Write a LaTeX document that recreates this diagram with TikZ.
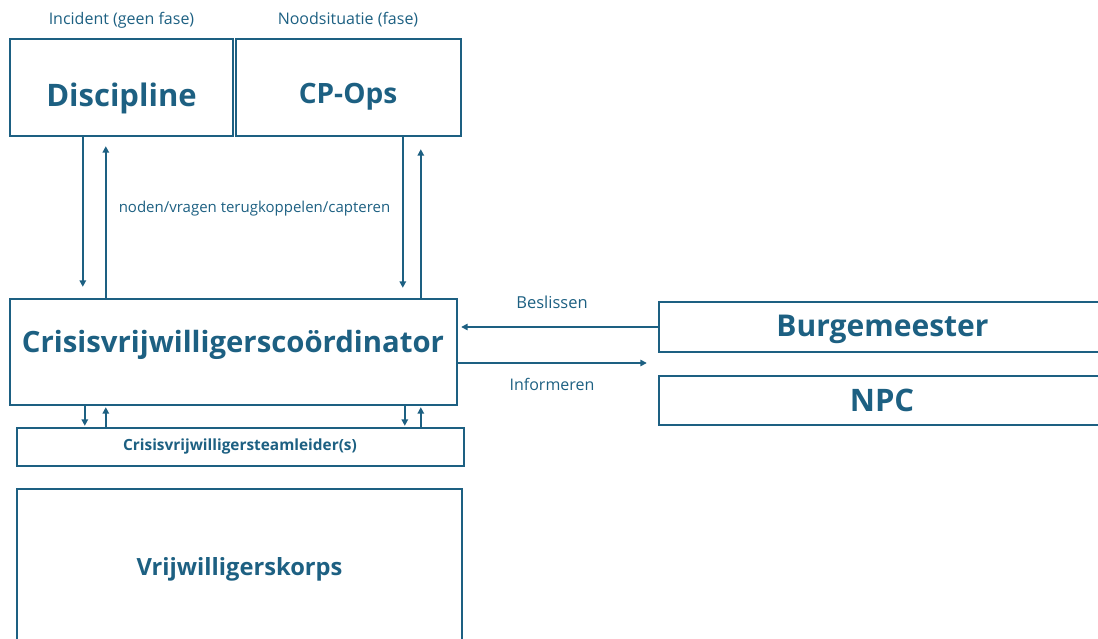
\documentclass[tikz,border=0pt]{standalone}
\usepackage{fontspec}
\setmainfont{Open Sans}
\usetikzlibrary{arrows.meta}
\definecolor{teal}{HTML}{1D6082}
\tikzset{
  box/.style={draw=teal, line width=2.4pt, inner sep=0pt, rectangle},
  title/.style={text=teal, font=\bfseries, inner sep=0pt},
  lbl/.style={text=teal, inner sep=0pt},
  arr/.style={draw=teal, line width=1.5pt, -{Triangle[length=6.5pt,width=6.5pt]}},
}
\begin{document}
\begin{tikzpicture}[x=1pt,y=-1pt]
\useasboundingbox (0,0) rectangle (1098,639);
\clip (0,0) rectangle (1098,639);
% boxes
\node[box, minimum width=223pt, minimum height=97pt] (disc) at (121.5,87.5) {};
\node[box, minimum width=225pt, minimum height=97pt] (cpops) at (348.5,87.5) {};
\node[box, minimum width=447pt, minimum height=106pt] (coord) at (233.5,352) {};
\node[box, minimum width=447pt, minimum height=38pt] (team) at (240.5,447) {};
\node[box, minimum width=445pt, minimum height=161pt] (korps) at (239.5,569.5) {};
\node[box, minimum width=451pt, minimum height=50pt] (burg) at (884.5,327) {};
\node[box, minimum width=451pt, minimum height=49pt] (npc) at (884.5,400.5) {};
% titles
\node[title, font=\bfseries\fontsize{31}{33}\selectfont] (tdisc) at (121.5,98) {Discipline};
\node[title, font=\bfseries\fontsize{28}{30}\selectfont] (tcp) at (348,97) {CP-Ops};
\node[title, font=\bfseries\fontsize{29.3}{31}\selectfont] (tcoord) at (233,345) {Crisisvrijwilligerscoördinator};
\node[title, font=\bfseries\fontsize{15.4}{17}\selectfont] (tteam) at (240,446) {Crisisvrijwilligersteamleider(s)};
\node[title, font=\bfseries\fontsize{23.7}{26}\selectfont] (tkorps) at (239.5,569) {Vrijwilligerskorps};
\node[title, font=\bfseries\fontsize{30}{32}\selectfont] (tburg) at (882.5,329) {Burgemeester};
\node[title, font=\bfseries\fontsize{31}{33}\selectfont] (tnpc) at (882,400) {NPC};
% labels
\node[lbl, font=\fontsize{16}{18}\selectfont] (linc) at (121.5,20) {Incident (geen fase)};
\node[lbl, font=\fontsize{16}{18}\selectfont] (lnood) at (348,20) {Noodsituatie (fase)};
\node[lbl, font=\fontsize{15}{17}\selectfont] (lnoden) at (254.5,209) {noden/vragen terugkoppelen/capteren};
\node[lbl, font=\fontsize{16.5}{18}\selectfont] (lbes) at (552,302) {Beslissen};
\node[lbl, font=\fontsize{16}{18}\selectfont] (linf) at (552,384) {Informeren};
% vertical arrows top
\draw[arr] ([xshift=74pt]disc.south west) -- ([xshift=74pt,yshift=11pt]coord.north west);
\draw[arr] ([xshift=97pt]coord.north west) -- ([xshift=97pt,yshift=-9pt]disc.south west);
\draw[arr] ([xshift=168pt]cpops.south west) -- ([xshift=394pt,yshift=10pt]coord.north west);
\draw[arr] ([xshift=412pt]coord.north west) -- ([xshift=186pt,yshift=-12pt]cpops.south west);
% small arrows
\draw[arr] ([xshift=76pt]coord.south west) -- ([xshift=69pt,yshift=1pt]team.north west);
\draw[arr] ([xshift=90pt]team.north west) -- ([xshift=97pt,yshift=-1pt]coord.south west);
\draw[arr] ([xshift=396pt]coord.south west) -- ([xshift=389pt,yshift=1pt]team.north west);
\draw[arr] ([xshift=405pt]team.north west) -- ([xshift=412pt,yshift=-1pt]coord.south west);
% horizontal arrows
\draw[arr, shorten >=3pt] (burg.west) -- (burg.west -| coord.east);
\coordinate (infs) at ([yshift=-11pt]coord.east);
\draw[arr, shorten >=11pt] (infs) -- (infs -| burg.west);
\end{tikzpicture}
\end{document}
